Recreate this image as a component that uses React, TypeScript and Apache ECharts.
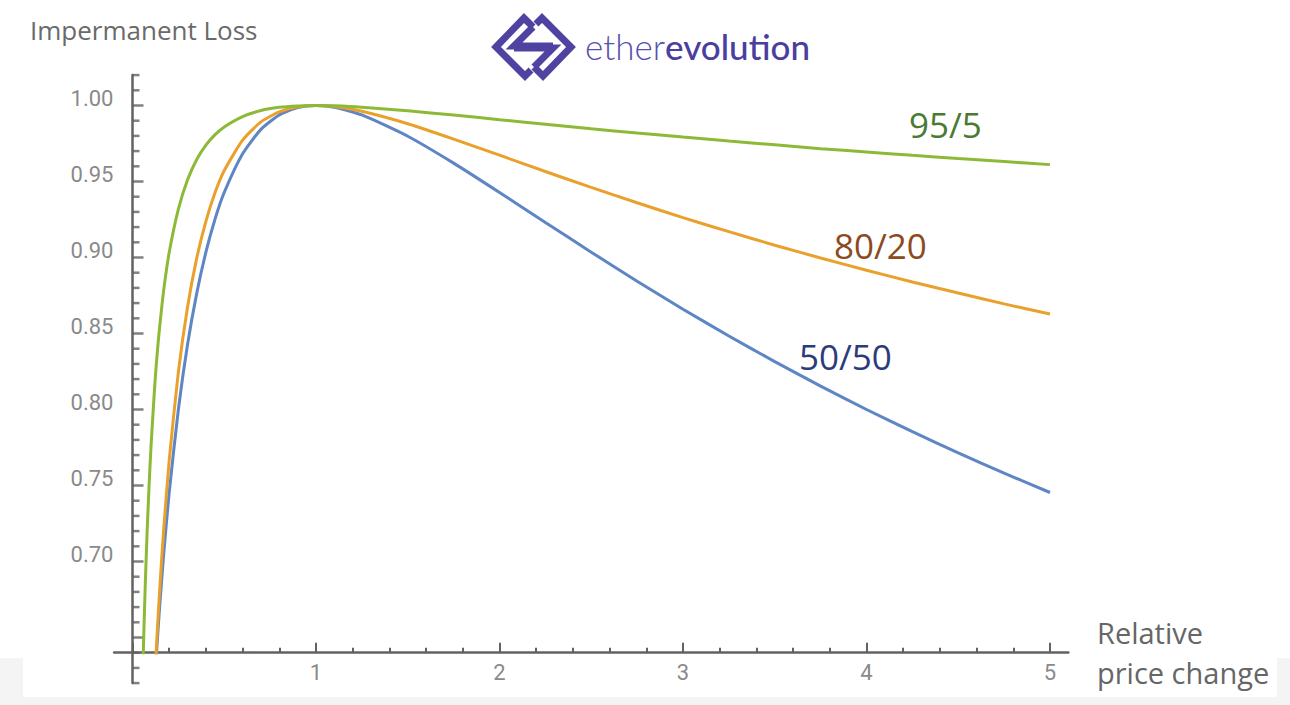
import React, { useEffect, useRef } from "react";
import * as echarts from "echarts";

// Relative price change (x) and pool value ratio (y)
const RATIO = [0.04, 0.05, 0.06, 0.07, 0.08, 0.09, 0.1, 0.12, 0.13, 0.14, 0.15, 0.17, 0.2, 0.25, 0.3, 0.35, 0.4, 0.45, 0.5, 0.6, 0.7, 0.8, 0.9, 1, 1.1, 1.25, 1.5, 1.75, 2, 2.25, 2.5, 2.75, 3, 3.25, 3.5, 3.75, 4, 4.25, 4.5, 4.75, 5];
const POOL_50_50 = [0.3846, 0.4259, 0.4622, 0.4945, 0.5238, 0.5505, 0.575, 0.6186, 0.6381, 0.6564, 0.6736, 0.7048, 0.7454, 0.8, 0.8427, 0.8764, 0.9035, 0.9253, 0.9428, 0.9682, 0.9843, 0.9938, 0.9986, 1.0, 0.9989, 0.9938, 0.9798, 0.9621, 0.9428, 0.9231, 0.9035, 0.8844, 0.866, 0.8484, 0.8315, 0.8154, 0.8, 0.7854, 0.7714, 0.7581, 0.7454];
const POOL_80_20 = [0.3281, 0.3792, 0.4246, 0.4652, 0.5023, 0.5357, 0.566, 0.6196, 0.6431, 0.6648, 0.6851, 0.7212, 0.7665, 0.8247, 0.8675, 0.8996, 0.9238, 0.9427, 0.9572, 0.9772, 0.9892, 0.9958, 0.9991, 1.0, 0.9993, 0.9962, 0.988, 0.9779, 0.9673, 0.9566, 0.9461, 0.936, 0.9262, 0.917, 0.9081, 0.8997, 0.8916, 0.8839, 0.8766, 0.8695, 0.8628];
const POOL_95_5 = [0.5338, 0.5956, 0.6455, 0.6864, 0.7202, 0.7491, 0.7738, 0.8135, 0.83, 0.8443, 0.8566, 0.8785, 0.9033, 0.9318, 0.9511, 0.9645, 0.9739, 0.9808, 0.9859, 0.9927, 0.9967, 0.9988, 0.9997, 1.0, 0.9998, 0.9989, 0.9965, 0.9937, 0.9907, 0.9877, 0.9847, 0.9819, 0.9792, 0.9766, 0.9741, 0.9716, 0.9694, 0.9672, 0.9651, 0.9631, 0.9611];
const SERIES_NAMES = ["50/50", "80/20", "95/5"];
const X_LABEL_MIN = 1; // x tick labels start at 1
const Y_LABEL_MIN = 0.7; // y tick labels start at 0.70
const Y_MAJOR_TICKS = [0.65, 0.7, 0.75, 0.8, 0.85, 0.9, 0.95, 1.0];
const Y_MINOR_TICKS = [0.62, 0.63, 0.64, 0.66, 0.67, 0.68, 0.69, 0.71, 0.72, 0.73, 0.74, 0.76, 0.77, 0.78, 0.79, 0.81, 0.82, 0.83, 0.84, 0.86, 0.87, 0.88, 0.89, 0.91, 0.92, 0.93, 0.94, 0.96, 0.97, 0.98, 0.99, 1.01, 1.02];

// layout (pixels)
const X0 = 132.5;
const SX = 183.5;
const Y1 = 105.5;
const SY = 1520;
const px = (x: number) => X0 + x * SX;
const py = (y: number) => Y1 + (1 - y) * SY;

const AXIS_COLOR = "#626262";
const LABEL_COLOR = "#8a8a8a";

export default function App() {
  const ref = useRef<HTMLDivElement>(null);
  useEffect(() => {
    document.body.style.margin = "0";
    const chart = echarts.init(ref.current!, null, { renderer: "svg" });
    const zip = (ys: number[]) => RATIO.map((x, i) => [x, ys[i]]);
    const lineColors = ["#5e85c4", "#e9a12c", "#8cba36"];
    const seriesData = [POOL_50_50, POOL_80_20, POOL_95_5];

    const hiddenAxis = { show: false };
    const tickSeries = (vals: number[], len: number) => ({
      type: "scatter",
      xAxisIndex: 2,
      yAxisIndex: 2,
      data: vals.map((v) => [0, v]),
      symbol: "rect",
      symbolSize: [len, 2.5],
      symbolOffset: [len / 2, 0],
      itemStyle: { color: AXIS_COLOR },
      clip: false,
      silent: true,
      z: 2,
    });
    const option: any = {
      animation: false,
      backgroundColor: "#ffffff",
      grid: [
        { left: px(-0.1), width: 5.2 * SX, top: py(1.02), height: 0.38 * SY },
        { left: px(0), width: 5 * SX, top: py(1.02), height: 0.38 * SY },
        { left: px(0), width: 100, top: py(1.02), height: 0.4 * SY },
        { left: px(0), width: 100, top: py(1.0), height: 0.35 * SY },
      ],
      xAxis: [
        {
          gridIndex: 0, type: "value", min: -0.1, max: 5.1,
          axisLine: { show: true, lineStyle: { color: AXIS_COLOR, width: 2.5 } },
          axisTick: { show: false }, axisLabel: { show: false }, splitLine: { show: false },
        },
        {
          gridIndex: 1, type: "value", min: 0, max: 5, interval: 1,
          axisLine: { show: false },
          axisTick: { show: true, inside: true, length: 10, lineStyle: { color: AXIS_COLOR, width: 2 } },
          minorTick: { show: true, splitNumber: 5, length: 5, lineStyle: { color: AXIS_COLOR, width: 2 } },
          axisLabel: {
            show: true, margin: 9, color: LABEL_COLOR, fontSize: 22, fontFamily: "Roboto",
            formatter: (v: number) => (v >= X_LABEL_MIN ? String(v) : ""),
          },
          splitLine: { show: false }, minorSplitLine: { show: false },
        },
        { gridIndex: 2, type: "value", min: 0, max: 1, ...hiddenAxis },
        { gridIndex: 3, type: "value", min: 0, max: 1, ...hiddenAxis },
      ],
      yAxis: [
        { gridIndex: 0, type: "value", min: 0.64, max: 1.02, ...hiddenAxis },
        { gridIndex: 1, type: "value", min: 0.64, max: 1.02, ...hiddenAxis },
        {
          gridIndex: 2, type: "value", min: 0.62, max: 1.02, interval: 0.01, position: "left",
          axisLine: { show: true, onZero: false, lineStyle: { color: AXIS_COLOR, width: 2.5 } },
          axisTick: { show: false },
          axisLabel: { show: false }, splitLine: { show: false },
        },
        {
          gridIndex: 3, type: "value", min: 0.65, max: 1.0, interval: 0.05, position: "left",
          axisLine: { show: false },
          axisTick: { show: false },
          axisLabel: {
            show: true, margin: 19,
            formatter: (v: number) => (v >= Y_LABEL_MIN - 0.001 ? "{v|" + v.toFixed(2) + "}" : ""),
            rich: {
              v: { color: LABEL_COLOR, fontSize: 22, fontFamily: "Roboto", padding: [0, 0, 14, 0] },
            },
          },
          splitLine: { show: false },
        },
      ],
      series: [
        ...SERIES_NAMES.map((name, i) => ({
          name,
          type: "line",
          xAxisIndex: 0,
          yAxisIndex: 0,
          data: zip(seriesData[i]),
          showSymbol: false,
          smooth: 0.2,
          clip: true,
          lineStyle: { color: lineColors[i], width: 3 },
          z: 3 + i,
        })),
        tickSeries(Y_MAJOR_TICKS, 11),
        tickSeries(Y_MINOR_TICKS, 7),
      ],
      graphic: [
        { type: "rect", z: -10, shape: { x: 0, y: 658, width: 1290, height: 47 }, style: { fill: "#f4f4f4" } },
        { type: "rect", z: -9, shape: { x: 23, y: 658, width: 1254, height: 39 }, style: { fill: "#ffffff" } },
        {
          type: "text", left: 30, top: 17,
          style: { text: "Impermanent Loss", fill: "#6a6a6a", fontSize: 26, fontFamily: "Open Sans" },
        },
        {
          type: "text", x: 1097, y: 632,
          style: { text: "Relative", fill: "#666666", fontSize: 29, fontFamily: "Open Sans", verticalAlign: "middle" },
        },
        {
          type: "text", x: 1097, y: 672,
          style: { text: "price change", fill: "#666666", fontSize: 29, fontFamily: "Open Sans", verticalAlign: "middle" },
        },
        {
          type: "text", x: 909, y: 124,
          style: { text: SERIES_NAMES[2], fill: "#4b7a34", fontSize: 35, fontFamily: "Open Sans", verticalAlign: "middle" },
        },
        {
          type: "text", x: 834, y: 245,
          style: { text: SERIES_NAMES[1], fill: "#8c4a20", fontSize: 35, fontFamily: "Open Sans", verticalAlign: "middle" },
        },
        {
          type: "text", x: 799, y: 356,
          style: { text: SERIES_NAMES[0], fill: "#2c3b7c", fontSize: 35, fontFamily: "Open Sans", verticalAlign: "middle" },
        },
        {
          type: "group",
          children: [
            { type: "polyline", shape: { points: [[533, 27], [524, 18], [496, 47], [525, 76], [531, 70]] }, style: { stroke: "#4f43a1", lineWidth: 7, fill: null, lineJoin: "miter" } },
            { type: "polyline", shape: { points: [[533, 27], [514, 46], [553, 46]] }, style: { stroke: "#4f43a1", lineWidth: 7, fill: null, lineJoin: "miter" } },
            { type: "polyline", shape: { points: [[534, 67], [543, 76], [571, 47], [542, 18], [536, 24]] }, style: { stroke: "#4f43a1", lineWidth: 7, fill: null, lineJoin: "miter" } },
            { type: "polyline", shape: { points: [[534, 67], [553, 48], [514, 48]] }, style: { stroke: "#4f43a1", lineWidth: 7, fill: null, lineJoin: "miter" } },
          ],
        },
        {
          type: "text", x: 585, y: 46,
          style: {
            text: "{a|ether}{b|evolution}",
            verticalAlign: "middle",
            rich: {
              a: { fontSize: 35, fontFamily: "Lato", fontWeight: 300, fill: "#5a4fae", color: "#5a4fae" },
              b: { fontSize: 35, fontFamily: "Lato", fontWeight: 500, fill: "#4a3e9e", color: "#4a3e9e" },
            },
          },
        },
      ],
    };
    chart.setOption(option);
    return () => chart.dispose();
  }, []);
  return <div ref={ref} style={{ width: 1290, height: 705 }} />;
}
